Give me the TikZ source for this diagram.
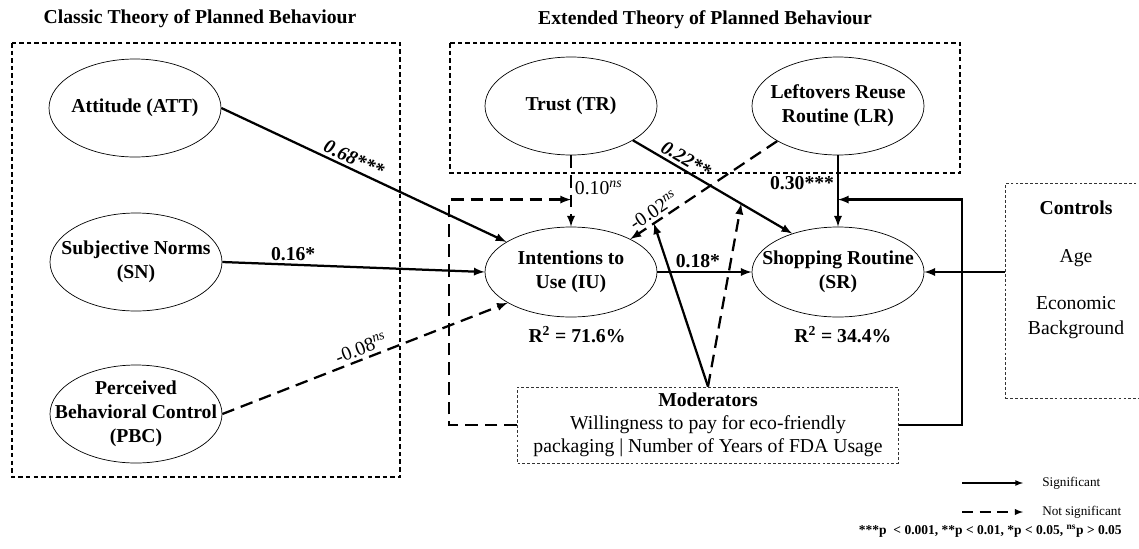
\documentclass[tikz,border=0pt]{standalone}
\usepackage{fontspec}
\setmainfont{Liberation Serif}
\usetikzlibrary{shapes.geometric, positioning}

\begin{document}
\begin{tikzpicture}[x=0.25mm, y=-0.25mm, >=latex,
    construct/.style={ellipse, draw, line width=0.5pt, minimum width=43mm, minimum height=24.5mm, inner sep=0pt},
    ctext/.style={font=\fontsize{14}{17}\selectfont\bfseries, align=center, inner sep=0pt},
    plain/.style={font=\fontsize{14}{16.4}\selectfont, align=center, inner sep=0pt},
    groupbox/.style={draw, line width=1pt, dash pattern=on 3.2pt off 2.2pt},
    modbox/.style={draw=black!80, line width=0.6pt, dash pattern=on 2pt off 1.5pt},
    sig/.style={->, line width=1.6pt},
    nsig/.style={->, line width=1.6pt, dash pattern=on 9pt off 5pt},
    coef/.style={font=\fontsize{14}{16}\selectfont\bfseries, inner sep=2pt},
    coefit/.style={font=\fontsize{14}{16}\selectfont\bfseries\itshape, inner sep=2pt},
    coefns/.style={font=\fontsize{14}{16}\selectfont, inner sep=2pt},
    legtext/.style={font=\fontsize{9.4}{11}\selectfont, inner sep=0pt},
    ]
    % page size
    \useasboundingbox (0,0) rectangle (1139,548);

    % the two theory boxes
    \draw[groupbox] (12,43) rectangle (400,477);
    \draw[groupbox] (450,43) rectangle (960,173);
    \node[ctext] (classic) at (200,19) {Classic Theory of Planned Behaviour};
    \node[ctext] (extended) at (705,20) {Extended Theory of Planned Behaviour};

    % constructs
    \node[construct, label={[ctext]center:Attitude (ATT)}] (att) at (135,108) {};
    \node[construct, label={[ctext]center:{Subjective Norms\\(SN)}}] (sn) at (136,262) {};
    \node[construct, label={[ctext]center:{Perceived\\Behavioral Control\\(PBC)}}] (pbc) at (136,414) {};
    \node[construct, label={[ctext]center:Trust (TR)}] (tr) at (571,106) {};
    \node[construct, label={[ctext]center:{Leftovers Reuse\\Routine (LR)}}] (lr) at (838,106) {};
    \node[construct, minimum height=22.5mm, label={[ctext]center:{Intentions to\\Use (IU)}}] (iu) at (571,272) {};
    \node[construct, minimum height=22.5mm, label={[ctext]center:{Shopping Routine\\(SR)}}] (sr) at (838,272) {};

    % explained variance
    \node[ctext, below=6pt of iu, xshift=1.5mm] (iur2) {R\textsuperscript{2} = 71.6\%};
    \node[ctext, below=6pt of sr, xshift=1.2mm] (srr2) {R\textsuperscript{2} = 34.4\%};

    % controls and moderators
    \node[modbox, anchor=north west, minimum width=36.25mm, minimum height=53.75mm] (ctrl) at (1005,183) {};
    \node[plain, font=\fontsize{14}{17.8}\selectfont] (ctrltxt) at (1076,270) {\textbf{Controls}\\[16pt]Age\\[16pt]Economic\\Background};
    \node[modbox, plain, minimum width=95.25mm, minimum height=19mm] (mod) at (708,425)
        {\textbf{Moderators}\\Willingness to pay for eco-friendly\\packaging | Number of Years of FDA Usage};

    % direct paths
    \draw[sig] (att.east) -- node[coefit, sloped, above, pos=0.45] {0.68***} (iu.155);
    \draw[sig] (sn.east) -- node[coef, above, pos=0.27] {0.16*} (iu.west);
    \draw[nsig] (pbc.east) -- node[coefns, sloped, above, pos=0.5] {-0.08\textsuperscript{\textit{ns}}} (iu.206);
    \draw[nsig] (tr.south) -- node[coefns, right, pos=0.46] {0.10\textsuperscript{\textit{ns}}} (iu.north);
    \draw[sig] (tr.-29) -- node[coefit, sloped, above, pos=0.3] {0.22**} (sr.140);
    \draw[nsig] (lr.210) -- node[coefns, sloped, above, pos=0.8] {-0.02\textsuperscript{\textit{ns}}} (iu.29);
    \draw[sig] (lr.south) -- node[coef, left, pos=0.39] {0.30***} (sr.north);
    \draw[sig] (iu.east) -- node[coef, above, pos=0.43] {0.18*} (sr.west);
    \draw[sig] (ctrl.west |- sr.east) -- (sr.east);

    % points on the moderated paths
    \path (tr.south) -- (iu.north) coordinate[pos=0.62] (tr2iu);
    \path (lr.south) -- (sr.north) coordinate[pos=0.62] (lr2sr);
    \path (lr.210) -- (iu.29) coordinate[pos=0.84] (lr2iu);
    \path (tr.-29) -- (sr.140) coordinate[pos=0.68] (tr2sr);

    % moderating effects
    \draw[nsig] (mod.west) -- ++(-68,0) |- (tr2iu);
    \draw[sig] (mod.east) -- ++(63,0) |- (lr2sr);
    \draw[sig] (mod.north) -- (lr2iu);
    \draw[nsig] (mod.north) -- (tr2sr);

    % legend
    \coordinate (sigA) at (962,483);
    \coordinate (sigB) at (1023,483);
    \coordinate (nsA) at (962,512);
    \coordinate (nsB) at (1023,512);
    \draw[->, line width=0.9pt] (sigA) -- (sigB);
    \draw[->, line width=1pt, dash pattern=on 8pt off 4.5pt] (nsA) -- (nsB);
    \node[legtext, right=4.75mm of sigB] (sigtxt) {Significant};
    \node[legtext, right=4.75mm of nsB] (nstxt) {Not significant};
    \node[legtext, font=\fontsize{9.6}{11}\selectfont\bfseries, anchor=east] (note) at (1122,531)
        {***p~ < 0.001, **p < 0.01, *p < 0.05, \textsuperscript{ns}p > 0.05};
\end{tikzpicture}
\end{document}
